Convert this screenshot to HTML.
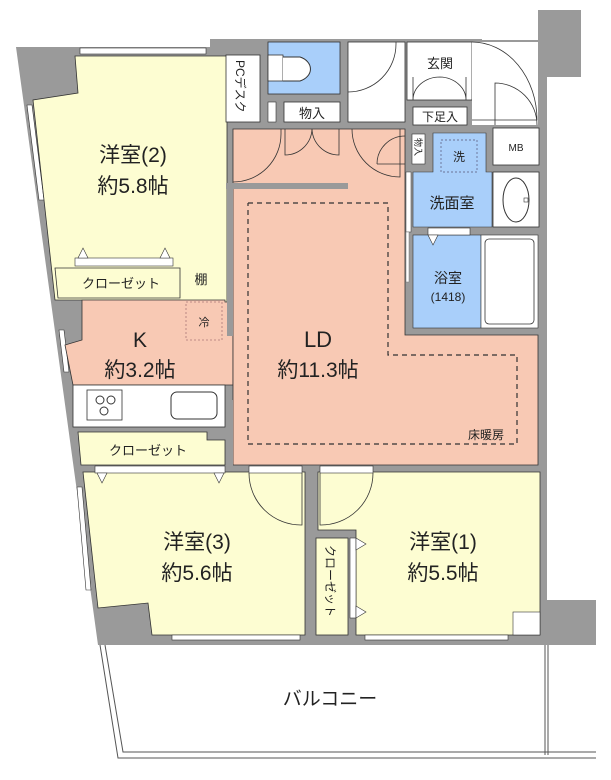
<!DOCTYPE html><html><head><meta charset="utf-8"><style>
body{margin:0;background:#fff}svg{display:block}
text{font-family:"Liberation Sans","Noto Sans CJK JP",sans-serif;fill:#222}
</style></head><body>
<svg width="611" height="780" viewBox="0 0 611 780" xmlns="http://www.w3.org/2000/svg">
<!-- building gray -->
<polygon points="16,47 210,47 210,39 482,39 482,40 538,40 538,10 581,10 581,77 547,77 547,600 596,600 596,645 98,645" fill="#9a9a9a"/>
<!-- balcony -->
<polyline points="100,645 118,758 596,758" fill="none" stroke="#555" stroke-width="1"/>
<polyline points="105,645 123,752 596,752" fill="none" stroke="#555" stroke-width="1"/>
<line x1="548" y1="645" x2="548" y2="755" stroke="#555"/>
<line x1="545" y1="645" x2="545" y2="755" stroke="#555"/>
<!-- left windows -->
<polygon points="27,105 32,105 44,200 39,200" fill="#fff" stroke="#333" stroke-width=".6"/>
<polygon points="59,330 64,330 69,372 64,372" fill="#fff" stroke="#333" stroke-width=".6"/>
<polygon points="77,487 82,487 91,590 86,590" fill="#fff" stroke="#333" stroke-width=".6"/>
<!-- room 2 -->
<polygon points="75,56 227,56 227,340 180,340 180,300 55,300 33,100 78,93" fill="#fdfdd2" stroke="#333" stroke-width=".8"/>
<rect x="80" y="48" width="126" height="6" fill="#fff" stroke="#333" stroke-width=".6"/>
<polygon points="55,268 180,268 180,298 58,298" fill="#fdfdd2" stroke="#333" stroke-width=".8"/>
<rect x="75" y="258" width="98" height="8" fill="#fff" stroke="#333" stroke-width=".6"/>
<polygon points="78,258 88,258 83,248" fill="#fff" stroke="#333" stroke-width=".6"/>
<polygon points="160,258 170,258 165,248" fill="#fff" stroke="#333" stroke-width=".6"/>
<text x="121" y="288" font-size="13" text-anchor="middle">クローゼット</text>
<text x="201" y="284" font-size="13" text-anchor="middle">棚</text>
<text x="133" y="162" font-size="21" text-anchor="middle">洋室(2)</text>
<text x="133" y="193" font-size="21" text-anchor="middle">約5.8帖</text>
<!-- kitchen -->
<polygon points="82,300 225,300 225,302 233,302 233,385 73,385 65,345 82,340" fill="#f8c9b4" stroke="#333" stroke-width=".8"/>
<rect x="186" y="302" width="36" height="38" fill="none" stroke="#a77" stroke-width=".8" stroke-dasharray="2,2"/>
<text x="204" y="326" font-size="11" text-anchor="middle">冷</text>
<rect x="73" y="385" width="152" height="42" fill="#fff" stroke="#333" stroke-width=".8"/>
<rect x="87" y="390" width="35" height="30" fill="#fff" stroke="#333" stroke-width=".8"/>
<circle cx="100" cy="400" r="4" fill="none" stroke="#333"/><circle cx="111" cy="400" r="4" fill="none" stroke="#333"/><circle cx="104" cy="411" r="4" fill="none" stroke="#333"/>
<rect x="171" y="392" width="46" height="27" rx="6" fill="#fff" stroke="#333"/>
<polygon points="78,432 207,432 207,440 225,440 225,465 81,465" fill="#fdfdd2" stroke="#333" stroke-width=".8"/>
<text x="148" y="455" font-size="13" text-anchor="middle">クローゼット</text>
<text x="140" y="347" font-size="21" text-anchor="middle">K</text>
<text x="140" y="377" font-size="21" text-anchor="middle">約3.2帖</text>
<!-- LD -->
<polygon points="233,129 405,129 405,335 538,335 538,465 233,465" fill="#f8c9b4" stroke="#333" stroke-width=".8"/>
<rect x="226" y="183" width="122" height="6" fill="#9a9a9a"/>
<rect x="227" y="189" width="6" height="147" fill="#9a9a9a"/>
<rect x="227" y="400" width="6" height="70" fill="#9a9a9a"/>
<polyline points="248,203 388,203 388,355 517,355 517,444 248,444 248,203" fill="none" stroke="#333" stroke-width="1.2" stroke-dasharray="5,4"/>
<text x="486" y="439" font-size="12" text-anchor="middle">床暖房</text>
<text x="318" y="347" font-size="22" text-anchor="middle">LD</text>
<text x="318" y="377" font-size="21" text-anchor="middle">約11.3帖</text>
<!-- doors LD top -->
<path d="M233,182 A48,48 0 0 0 281,134 L281,129" fill="none" stroke="#333" stroke-width=".8"/>
<path d="M285,129 L285,155 A27,27 0 0 0 312,129 M339,129 L339,155 A27,27 0 0 1 312,129" fill="none" stroke="#333" stroke-width=".8"/>
<path d="M352,129 A48,48 0 0 0 400,177 L400,129" fill="none" stroke="#333" stroke-width=".8"/>
<path d="M377,164 A28,28 0 0 1 405,136" fill="none" stroke="#333" stroke-width=".8"/>
<line x1="377" y1="164" x2="405" y2="164" stroke="#333" stroke-width=".8"/>
<!-- top services -->
<rect x="226" y="55" width="34" height="67" fill="#fff" stroke="#333" stroke-width=".8"/>
<text font-size="12" transform="translate(236,60) rotate(90)">PCデスク</text>
<rect x="268" y="42" width="72" height="52" fill="#a9cffa" stroke="#333" stroke-width=".8"/>
<rect x="268" y="55" width="15" height="26" fill="#fff" stroke="#333" stroke-width=".8"/>
<path d="M283,57 L300,57 A17,13 0 0 1 300,81 L283,81" fill="#fff" stroke="#333"/>
<rect x="268" y="102" width="8" height="20" fill="#fff" stroke="#333" stroke-width=".6"/>
<rect x="284" y="102" width="56" height="20" fill="#fff" stroke="#333" stroke-width=".8"/>
<text x="312" y="118" font-size="13" text-anchor="middle">物入</text>
<rect x="348" y="42" width="57" height="80" fill="#fff" stroke="#333" stroke-width=".8"/>
<path d="M348,92 A48,48 0 0 0 396,44 L396,42" fill="none" stroke="#333" stroke-width=".8"/>
<rect x="407" y="42" width="65" height="58" fill="#fff" stroke="#333" stroke-width=".8"/>
<text x="440" y="68" font-size="13" text-anchor="middle">玄関</text>
<path d="M413,77 L413,100 A27,23 0 0 1 440,77 M466,77 L466,100 A27,23 0 0 0 440,77" fill="none" stroke="#333" stroke-width=".8"/>
<rect x="413" y="107" width="54" height="18" fill="#fff" stroke="#333" stroke-width=".8"/>
<text x="440" y="121" font-size="12" text-anchor="middle">下足入</text>
<rect x="472" y="42" width="66" height="83" fill="#fff"/>
<path d="M472,42 A65,78 0 0 1 537,120 L472,120" fill="none" stroke="#333" stroke-width=".8"/>
<path d="M495,125 L495,83 A42,42 0 0 1 537,125" fill="none" stroke="#333" stroke-width=".8"/>
<rect x="493" y="128" width="46" height="37" fill="#fff" stroke="#333" stroke-width=".8"/>
<text x="516" y="151" font-size="10" text-anchor="middle">MB</text>
<rect x="412" y="134" width="13" height="30" fill="#fff" stroke="#333" stroke-width=".6"/>
<text font-size="9" transform="translate(415,138) rotate(90)">物入</text>
<!-- wash -->
<polygon points="433,133 486,133 486,172 492,172 492,227 413,227 413,172 433,172" fill="#a9cffa" stroke="#333" stroke-width=".6"/>
<rect x="441" y="140" width="36" height="32" fill="none" stroke="#557" stroke-dasharray="2,2" stroke-width=".7"/>
<text x="459" y="161" font-size="12" text-anchor="middle">洗</text>
<text x="452" y="208" font-size="15" text-anchor="middle">洗面室</text>
<rect x="493" y="172" width="46" height="55" fill="#fff" stroke="#333" stroke-width=".8"/>
<ellipse cx="516" cy="200" rx="13" ry="22" fill="#fff" stroke="#333"/>
<rect x="524" y="198" width="4" height="4" fill="#fff" stroke="#333" stroke-width=".6"/>
<rect x="406" y="172" width="5" height="60" fill="#fff" stroke="#333" stroke-width=".5"/>
<rect x="406" y="232" width="3" height="50" fill="#fff" stroke="#777" stroke-width=".5"/>
<rect x="413" y="235" width="68" height="93" fill="#a9cffa" stroke="#333" stroke-width=".6"/>
<rect x="428" y="228" width="42" height="7" fill="#fff" stroke="#333" stroke-width=".6"/>
<polygon points="428,235 438,235 433,245" fill="#fff" stroke="#333" stroke-width=".6"/>
<text x="448" y="283" font-size="14" text-anchor="middle">浴室</text>
<text x="448" y="301" font-size="12" text-anchor="middle">(1418)</text>
<rect x="481" y="235" width="57" height="93" fill="#fff" stroke="#333" stroke-width=".6"/>
<rect x="485" y="239" width="49" height="85" rx="4" fill="#fff" stroke="#333" stroke-width=".8"/>
<!-- room 3 -->
<polygon points="83,472 305,472 305,635 152,635 148,603 98,608" fill="#fdfdd2" stroke="#333" stroke-width=".8"/>
<rect x="95" y="466" width="130" height="7" fill="#fff" stroke="#333" stroke-width=".6"/>
<polygon points="97,473 107,473 102,483" fill="#fff" stroke="#333" stroke-width=".6"/>
<polygon points="214,473 224,473 219,483" fill="#fff" stroke="#333" stroke-width=".6"/>
<rect x="249" y="466" width="53" height="7" fill="#fff" stroke="#333" stroke-width=".6"/>
<path d="M249,473 A52,52 0 0 0 302,525 L302,473" fill="none" stroke="#333" stroke-width=".8"/>
<rect x="172" y="635" width="128" height="5" fill="#fff" stroke="#333" stroke-width=".6"/>
<text x="197" y="549" font-size="21" text-anchor="middle">洋室(3)</text>
<text x="197" y="580" font-size="21" text-anchor="middle">約5.6帖</text>
<!-- room 1 -->
<polygon points="318,472 540,472 540,635 356,635 356,530 318,530" fill="#fdfdd2" stroke="#333" stroke-width=".8"/>
<rect x="320" y="466" width="53" height="7" fill="#fff" stroke="#333" stroke-width=".6"/>
<path d="M373,473 A52,52 0 0 1 320,525 L320,473" fill="none" stroke="#333" stroke-width=".8"/>
<rect x="316" y="538" width="32" height="97" fill="#fdfdd2" stroke="#333" stroke-width=".8"/>
<text font-size="12" transform="translate(326,545) rotate(90)">クローゼット</text>
<rect x="350" y="538" width="6" height="80" fill="#fff" stroke="#333" stroke-width=".6"/>
<polygon points="356,538 356,550 366,544" fill="#fff" stroke="#333" stroke-width=".6"/>
<polygon points="356,606 356,618 366,612" fill="#fff" stroke="#333" stroke-width=".6"/>
<rect x="513" y="612" width="27" height="23" fill="#fff" stroke="#333" stroke-width=".6"/>
<rect x="365" y="635" width="143" height="5" fill="#fff" stroke="#333" stroke-width=".6"/>
<text x="443" y="549" font-size="21" text-anchor="middle">洋室(1)</text>
<text x="443" y="580" font-size="21" text-anchor="middle">約5.5帖</text>
<text x="330" y="705" font-size="19" text-anchor="middle">バルコニー</text>
</svg>
</body></html>
